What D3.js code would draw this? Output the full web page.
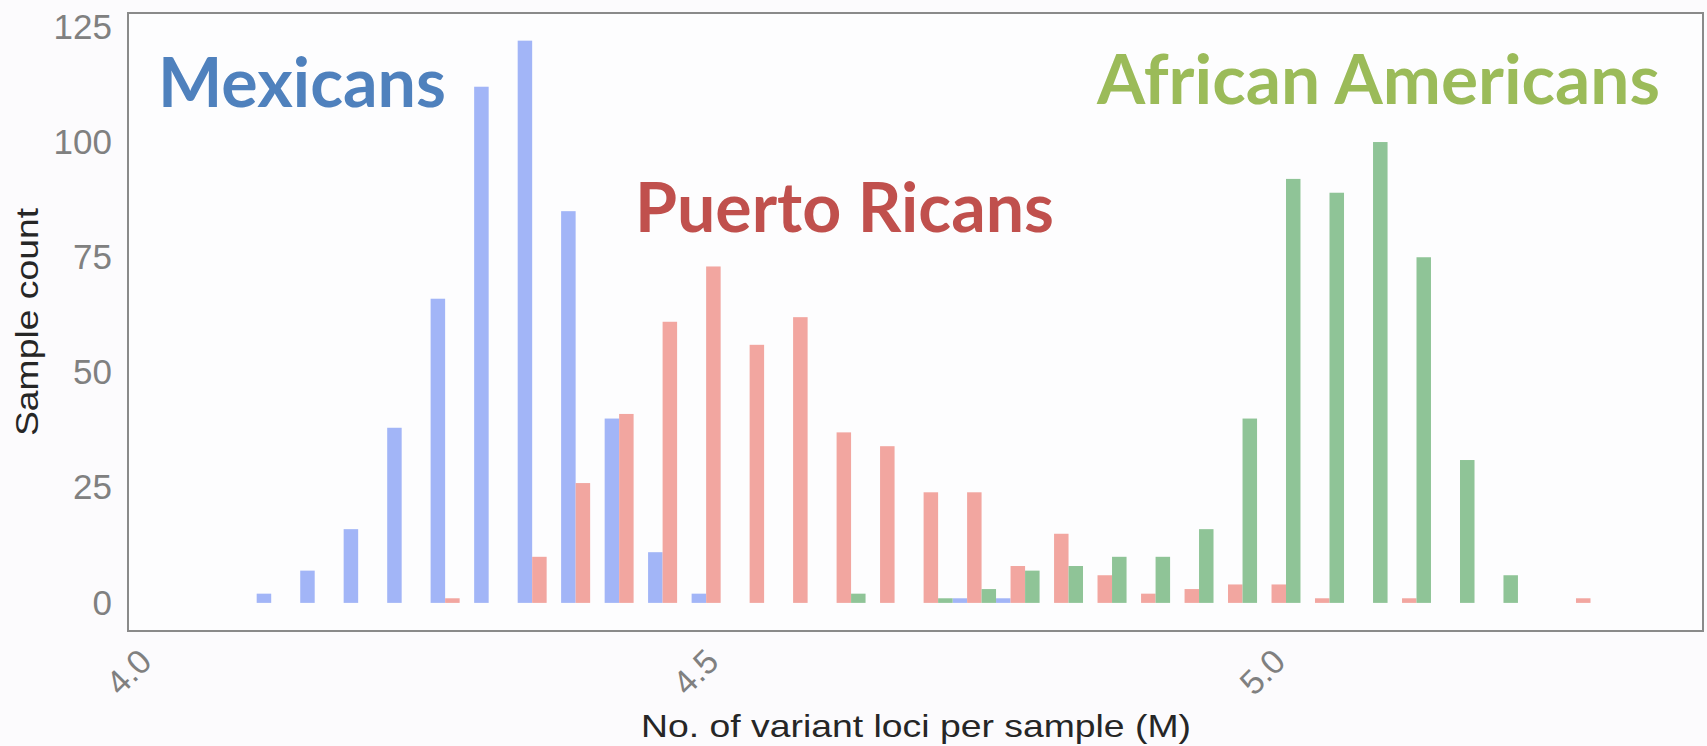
<!DOCTYPE html>
<html lang="en">
<head>
<meta charset="UTF-8">
<title>Variant loci per sample</title>
<script src="https://d3js.org/d3.v7.min.js"></script>
<style>
  body { margin: 0; background: #fcfbfd; }
  svg { display: block; }
</style>
</head>
<body>
<script>
// histogram bin edges (M loci), 31 bins
var binEdges = [4.1135, 4.1519, 4.1902, 4.2286, 4.2669, 4.3053, 4.3437, 4.3820,
  4.4204, 4.4587, 4.4971, 4.5355, 4.5738, 4.6122, 4.6505, 4.6889, 4.7273,
  4.7656, 4.8040, 4.8423, 4.8807, 4.9191, 4.9574, 4.9958, 5.0341, 5.0725,
  5.1109, 5.1492, 5.1876, 5.2259, 5.2643, 5.3027];

// sample counts per bin
var mexicans = [2, 7, 16, 38, 66, 112, 122, 85, 40, 11, 2, 0, 0, 0, 0, 0,
  1, 1, 0, 0, 0, 0, 0, 0, 0, 0, 0, 0, 0, 0, 0];
var puertoRicans = [0, 0, 0, 0, 1, 0, 10, 26, 41, 61, 73, 56, 62, 37, 34, 24,
  24, 8, 15, 6, 2, 3, 4, 4, 1, 0, 1, 0, 0, 0, 1];
var africanAmericans = [0, 0, 0, 0, 0, 0, 0, 0, 0, 0, 0, 0, 0, 2, 0, 1,
  3, 7, 8, 10, 10, 16, 40, 92, 89, 100, 75, 31, 6, 0, 0];

var groupNames = ["Mexicans", "Puerto Ricans", "African Americans"];
var xTicks = [4.0, 4.5, 5.0];
var yTicks = [0, 25, 50, 75, 100, 125];

var width = 1707, height = 746;
var margin = { top: 13, right: 3, bottom: 115, left: 128 };

var barColors = ["#a2b5f7", "#f2a6a0", "#8fc497"];
var textColors = ["#4f81bd", "#c0504d", "#9bbb59"];

var svg = d3.select("body").append("svg")
  .attr("width", width)
  .attr("height", height);

var x = d3.scaleLinear()
  .domain([4.0, 5.39])
  .range([margin.left, width - margin.right]);

var y = d3.scaleLinear()
  .domain([-6.1, 128])
  .range([height - margin.bottom, margin.top]);

// plot background
svg.append("rect")
  .attr("x", margin.left)
  .attr("y", margin.top)
  .attr("width", width - margin.left - margin.right)
  .attr("height", height - margin.top - margin.bottom)
  .attr("fill", "#fdfdfe");

// bars: each bin split in three, side by side
var series = [mexicans, puertoRicans, africanAmericans];
var bars = [];
series.forEach(function (s, i) {
  s.forEach(function (v, k) {
    if (v > 0) bars.push({ group: i, bin: k, value: v });
  });
});

svg.append("g").selectAll("rect")
  .data(bars)
  .enter().append("rect")
  .attr("x", function (d) {
    var w = (binEdges[d.bin + 1] - binEdges[d.bin]) / 3;
    return x(binEdges[d.bin] + w * d.group);
  })
  .attr("width", function (d) {
    var w = (binEdges[d.bin + 1] - binEdges[d.bin]) / 3;
    return x(binEdges[d.bin] + w) - x(binEdges[d.bin]);
  })
  .attr("y", function (d) { return y(d.value); })
  .attr("height", function (d) { return y(0) - y(d.value); })
  .attr("fill", function (d) { return barColors[d.group]; });

// frame
svg.append("rect")
  .attr("x", margin.left)
  .attr("y", margin.top)
  .attr("width", width - margin.left - margin.right - 1)
  .attr("height", height - margin.top - margin.bottom)
  .attr("fill", "none")
  .attr("stroke", "#8a8a8a")
  .attr("stroke-width", 2);

// y axis ticks
var yAxis = d3.axisLeft(y).tickValues(yTicks).tickSize(0).tickPadding(16);
var gy = svg.append("g")
  .attr("transform", "translate(" + margin.left + ",0)")
  .call(yAxis);
gy.select(".domain").remove();
gy.selectAll("text")
  .attr("font-family", "Liberation Sans, Arial, sans-serif")
  .attr("font-size", 35)
  .attr("fill", "#808080");

// x axis ticks, rotated
var xAxis = d3.axisBottom(x).tickValues(xTicks).tickSize(0).tickFormat(d3.format(".1f"));
var gx = svg.append("g")
  .attr("transform", "translate(0," + (height - margin.bottom) + ")")
  .call(xAxis);
gx.select(".domain").remove();
gx.selectAll("text")
  .attr("font-family", "Liberation Sans, Arial, sans-serif")
  .attr("font-size", 34)
  .attr("fill", "#808080")
  .attr("y", 0)
  .attr("dy", "0.35em")
  .attr("text-anchor", "middle")
  .attr("transform", "translate(0,41) rotate(-45)");

// axis titles
svg.append("text")
  .attr("x", (margin.left + width - margin.right) / 2)
  .attr("y", 737)
  .attr("text-anchor", "middle")
  .attr("font-family", "Liberation Sans, Arial, sans-serif")
  .attr("font-size", 32)
  .attr("fill", "#262626")
  .attr("textLength", 550)
  .attr("lengthAdjust", "spacingAndGlyphs")
  .text("No. of variant loci per sample (M)");

svg.append("text")
  .attr("transform", "translate(38," + ((margin.top + height - margin.bottom) / 2) + ") rotate(-90)")
  .attr("text-anchor", "middle")
  .attr("font-family", "Liberation Sans, Arial, sans-serif")
  .attr("font-size", 31)
  .attr("fill", "#262626")
  .attr("textLength", 228)
  .attr("lengthAdjust", "spacingAndGlyphs")
  .text("Sample count");

// group labels
var labelPos = [[158, 107], [635, 232], [1097, 104]];
var labelLen = [288, 419, 563];
svg.selectAll(".grp")
  .data(groupNames)
  .enter().append("text")
  .attr("class", "grp")
  .attr("x", function (d, i) { return labelPos[i][0]; })
  .attr("y", function (d, i) { return labelPos[i][1]; })
  .attr("font-family", "Lato, sans-serif")
  .attr("font-weight", 700)
  .attr("font-size", 68)
  .attr("textLength", function (d, i) { return labelLen[i]; })
  .attr("lengthAdjust", "spacingAndGlyphs")
  .attr("fill", function (d, i) { return textColors[i]; })
  .text(function (d) { return d; });
</script>
</body>
</html>
